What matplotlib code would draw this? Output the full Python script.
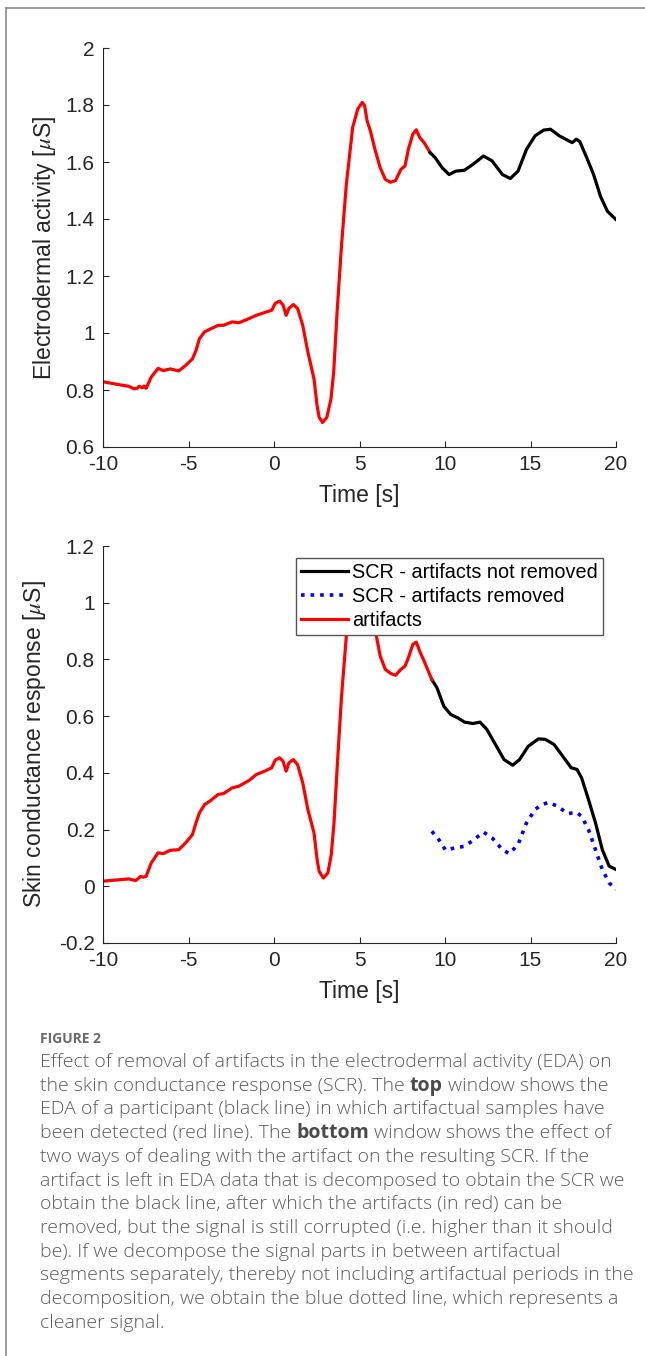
import matplotlib
matplotlib.use('Agg')
import matplotlib.pyplot as plt
from matplotlib.lines import Line2D

# ---------------- data ----------------
t_top_red = [-10, -9.0, -8.49, -8.19, -8.0, -7.89, -7.7, -7.6, -7.48, -7.18, -6.78, -6.48, -6.07, -5.57,
             -5.17, -4.77, -4.56, -4.36, -4.06, -3.76, -3.26, -2.95, -2.45, -2.05, -1.44, -1.04, -0.54,
             -0.13, 0.07, 0.33, 0.53, 0.71, 0.87, 1.13, 1.38, 1.68, 1.98, 2.34, 2.52, 2.64, 2.84, 3.09,
             3.33, 3.49, 3.69, 3.95, 4.23, 4.60, 4.90, 5.16, 5.30, 5.44, 5.64, 5.90, 6.21, 6.51, 6.81,
             7.11, 7.42, 7.66, 7.86, 8.12, 8.32, 8.52, 8.78, 9.13]
v_top_red = [0.829, 0.818, 0.813, 0.804, 0.806, 0.813, 0.808, 0.814, 0.806, 0.845, 0.876, 0.868, 0.874,
             0.867, 0.886, 0.909, 0.939, 0.980, 1.004, 1.013, 1.027, 1.027, 1.039, 1.036, 1.051, 1.062,
             1.072, 1.080, 1.104, 1.112, 1.098, 1.062, 1.086, 1.100, 1.086, 1.027, 0.933, 0.839, 0.745,
             0.704, 0.686, 0.704, 0.768, 0.862, 1.074, 1.309, 1.521, 1.721, 1.786, 1.809, 1.798, 1.745,
             1.709, 1.645, 1.580, 1.539, 1.529, 1.535, 1.574, 1.586, 1.645, 1.698, 1.713, 1.686, 1.668,
             1.633]
t_top_black = [9.13, 9.43, 9.83, 10.24, 10.64, 11.14, 11.64, 12.25, 12.75, 13.36, 13.82, 14.27, 14.77,
               15.27, 15.77, 16.17, 16.68, 17.18, 17.44, 17.68, 17.88, 18.29, 18.69, 19.09, 19.50, 20.0]
v_top_black = [1.633, 1.615, 1.580, 1.556, 1.568, 1.571, 1.592, 1.621, 1.604, 1.556, 1.542, 1.568, 1.645,
               1.692, 1.712, 1.715, 1.692, 1.676, 1.668, 1.680, 1.672, 1.615, 1.556, 1.480, 1.427, 1.398]

t_bot_red = [-10, -8.49, -8.09, -7.79, -7.65, -7.48, -7.18, -6.78, -6.48, -6.07, -5.57, -5.17, -4.77,
             -4.56, -4.36, -4.06, -3.76, -3.26, -2.95, -2.45, -2.05, -1.44, -1.04, -0.54, -0.13, 0.07,
             0.33, 0.53, 0.71, 0.87, 1.13, 1.38, 1.68, 1.98, 2.34, 2.52, 2.64, 2.89, 3.15, 3.35, 3.51,
             3.71, 3.95, 4.23, 4.55, 4.85, 5.15, 5.45, 5.75, 5.97, 6.21, 6.51, 6.81, 7.11, 7.42, 7.66,
             7.86, 8.12, 8.32, 8.52, 8.78, 9.23]
v_bot_red = [0.018, 0.026, 0.020, 0.035, 0.032, 0.035, 0.082, 0.118, 0.115, 0.127, 0.129, 0.153, 0.182,
             0.224, 0.259, 0.288, 0.300, 0.324, 0.327, 0.347, 0.353, 0.374, 0.394, 0.406, 0.418, 0.445,
             0.453, 0.441, 0.406, 0.435, 0.447, 0.429, 0.365, 0.271, 0.188, 0.094, 0.053, 0.029, 0.047,
             0.112, 0.224, 0.435, 0.671, 0.882, 0.97, 1.01, 1.02, 0.97, 0.93, 0.888, 0.812, 0.765,
             0.751, 0.744, 0.765, 0.776, 0.806, 0.853, 0.861, 0.829, 0.794, 0.729]
t_bot_black = [9.23, 9.53, 9.93, 10.33, 10.74, 11.14, 11.64, 12.05, 12.45, 12.95, 13.45, 13.96, 14.36,
               14.87, 15.47, 15.87, 16.38, 16.88, 17.38, 17.72, 17.99, 18.39, 18.80, 19.20, 19.60, 20.0]
v_bot_black = [0.729, 0.700, 0.635, 0.606, 0.594, 0.579, 0.574, 0.579, 0.553, 0.500, 0.447, 0.427, 0.447,
               0.494, 0.520, 0.518, 0.500, 0.459, 0.418, 0.412, 0.382, 0.306, 0.224, 0.129, 0.071, 0.059]
t_bot_blue = [9.23, 9.63, 10.04, 10.54, 11.14, 11.64, 12.25, 12.75, 13.36, 13.76, 14.27, 14.77, 15.27,
              15.67, 16.07, 16.58, 17.18, 17.68, 17.99, 18.39, 18.80, 19.20, 19.60, 20.0]
v_bot_blue = [0.194, 0.165, 0.127, 0.135, 0.141, 0.162, 0.191, 0.171, 0.129, 0.115, 0.147, 0.224, 0.271,
              0.288, 0.296, 0.282, 0.256, 0.261, 0.247, 0.200, 0.129, 0.059, 0.012, -0.012]

x_ticks = [-10, -5, 0, 5, 10, 15, 20]
x_ticklabels = ['-10', '-5', '0', '5', '10', '15', '20']
top_yticks = [0.6, 0.8, 1.0, 1.2, 1.4, 1.6, 1.8, 2.0]
top_yticklabels = ['0.6', '0.8', '1', '1.2', '1.4', '1.6', '1.8', '2']
bot_yticks = [-0.2, 0.0, 0.2, 0.4, 0.6, 0.8, 1.0, 1.2]
bot_yticklabels = ['-0.2', '0', '0.2', '0.4', '0.6', '0.8', '1', '1.2']

legend_labels = ['SCR - artifacts not removed', 'SCR - artifacts removed', 'artifacts']
xlabel = 'Time [s]'
top_ylabel = r'Electrodermal activity [$\mu$S]'
bot_ylabel = r'Skin conductance response [$\mu$S]'

caption_title = 'FIGURE 2'
caption_lines = [
    [("Effect of removal of artifacts in the electrodermal activity (EDA) on", 'light')],
    [("the skin conductance response (SCR). The", 'light'), ("top", 'bold'), ("window shows the", 'light')],
    [("EDA of a participant (black line) in which artifactual samples have", 'light')],
    [("been detected (red line). The", 'light'), ("bottom", 'bold'), ("window shows the effect of", 'light')],
    [("two ways of dealing with the artifact on the resulting SCR. If the", 'light')],
    [("artifact is left in EDA data that is decomposed to obtain the SCR we", 'light')],
    [("obtain the black line, after which the artifacts (in red) can be", 'light')],
    [("removed, but the signal is still corrupted (i.e. higher than it should", 'light')],
    [("be). If we decompose the signal parts in between artifactual", 'light')],
    [("segments separately, thereby not including artifactual periods in the", 'light')],
    [("decomposition, we obtain the blue dotted line, which represents a", 'light')],
    [("cleaner signal.", 'light')],
]

# ---------------- figure ----------------
plt.rcParams['font.family'] = ['Liberation Sans', 'DejaVu Sans']
plt.rcParams['axes.unicode_minus'] = False
plt.rcParams['mathtext.fontset'] = 'stix'

W, H = 645, 1356
fig = plt.figure(figsize=(W / 100, H / 100), dpi=100)


def rect(l, t, r, b):
    return [l / W, 1 - b / H, (r - l) / W, (b - t) / H]


ax1 = fig.add_axes(rect(103, 48, 616, 447))
ax2 = fig.add_axes(rect(103, 546, 616, 943))

axc = '#262626'
for ax in (ax1, ax2):
    ax.spines['top'].set_visible(False)
    ax.spines['right'].set_visible(False)
    for s in ('left', 'bottom'):
        ax.spines[s].set_color(axc)
        ax.spines[s].set_linewidth(0.8)
    ax.tick_params(direction='in', length=4, width=0.8, color=axc, labelsize=15,
                   labelcolor=axc, pad=6)
    ax.set_xlim(-10, 20)
    ax.set_xticks(x_ticks)
    ax.set_xticklabels(x_ticklabels)
    ax.set_xlabel(xlabel, fontsize=16.5, color=axc, labelpad=7)

ax1.set_ylim(0.6, 2.0)
ax1.set_yticks(top_yticks)
ax1.set_yticklabels(top_yticklabels)
ax1.set_ylabel(top_ylabel, fontsize=16.5, color=axc)
ax1.yaxis.set_label_coords(-0.088, 0.5)

ax2.set_ylim(-0.2, 1.2)
ax2.set_yticks(bot_yticks)
ax2.set_yticklabels(bot_yticklabels)
ax2.set_ylabel(bot_ylabel, fontsize=16.5, color=axc)
ax2.yaxis.set_label_coords(-0.108, 0.5)

lw = 2.3
ax1.plot(t_top_red, v_top_red, color='#ff0000', lw=lw, solid_joinstyle='round')
ax1.plot(t_top_black, v_top_black, color='#000000', lw=lw, solid_joinstyle='round')

h1, = ax2.plot(t_bot_black, v_bot_black, color='#000000', lw=lw, solid_joinstyle='round',
               label=legend_labels[0])
h2, = ax2.plot(t_bot_blue, v_bot_blue, color='#0000ff', lw=2.6, ls=':', label=legend_labels[1])
h3, = ax2.plot(t_bot_red, v_bot_red, color='#ff0000', lw=lw, solid_joinstyle='round',
               label=legend_labels[2])

leg = ax2.legend(handles=[h1, h2, h3], loc='upper right', bbox_to_anchor=(0.9747, 0.970),
                 borderaxespad=0, prop={'family': 'Liberation Sans', 'size': 14.3}, frameon=True,
                 fancybox=False, edgecolor='#555555', framealpha=1, handlelength=2.4,
                 handletextpad=0.2, labelspacing=0.26, borderpad=0.25)
leg.get_frame().set_linewidth(1.0)
for txt in leg.get_texts():
    txt.set_color('#000000')

# ---------------- frame lines ----------------
fig.add_artist(Line2D([6 / W, 6 / W], [0, 1 - 8 / H], color='#8c8c8c', lw=1.2,
                      transform=fig.transFigure))
fig.add_artist(Line2D([6 / W, 1], [1 - 8 / H, 1 - 8 / H], color='#8c8c8c', lw=1.2,
                      transform=fig.transFigure))

# ---------------- caption ----------------
cap_font = ['Open Sans', 'DejaVu Sans']
cap_size = 14.0
cap_color = '#5c5c5c'
renderer = fig.canvas.get_renderer()

t_a = fig.text(0, 0, 'a a', fontsize=cap_size, family=cap_font, weight='light')
t_b = fig.text(0, 0, 'aa', fontsize=cap_size, family=cap_font, weight='light')
space_w = t_a.get_window_extent(renderer).width - t_b.get_window_extent(renderer).width
t_a.remove()
t_b.remove()

fig.text(40 / W, 1 - 1043 / H, caption_title, fontsize=10, family=cap_font, weight='bold',
         color='#6a6a6a', va='baseline', ha='left')

for i, segs in enumerate(caption_lines):
    x = 40.0
    y = 1067 + 23.7 * i
    for txt, wt in segs:
        t = fig.text(x / W, 1 - y / H, txt, fontsize=cap_size, family=cap_font, weight=wt,
                     color=cap_color if wt != 'bold' else '#4a4a4a', va='baseline', ha='left')
        bb = t.get_window_extent(renderer)
        x = bb.x1 + space_w

fig.savefig('out.png', dpi=100)
